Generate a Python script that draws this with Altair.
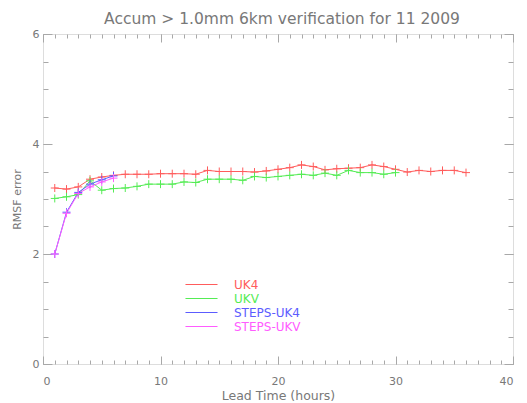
import altair as alt
import pandas as pd

hours_uk4 = list(range(1, 37))
uk4 = [3.20, 3.18, 3.22, 3.36, 3.40, 3.43, 3.45, 3.45, 3.45, 3.46, 3.46, 3.46,
       3.45, 3.52, 3.50, 3.50, 3.50, 3.49, 3.51, 3.54, 3.57, 3.62, 3.59, 3.53,
       3.55, 3.56, 3.57, 3.62, 3.59, 3.54, 3.49, 3.52, 3.50, 3.52, 3.52, 3.48]
hours_ukv = list(range(1, 31))
ukv = [3.01, 3.04, 3.08, 3.33, 3.16, 3.19, 3.20, 3.23, 3.27, 3.27, 3.27, 3.31,
       3.30, 3.36, 3.36, 3.36, 3.34, 3.41, 3.39, 3.41, 3.43, 3.45, 3.43, 3.47,
       3.43, 3.52, 3.48, 3.48, 3.45, 3.48]
hours_steps = [1, 2, 3, 4, 5, 6]
steps_uk4 = [2.00, 2.76, 3.12, 3.27, 3.35, 3.42]
steps_ukv = [2.00, 2.74, 3.10, 3.22, 3.31, 3.38]

series = ["UK4", "UKV", "STEPS-UK4", "STEPS-UKV"]
colors = ["#ff5c5c", "#55ec55", "#5c5cff", "#ff5cff"]
x_major = [0, 10, 20, 30, 40]
x_minor = list(range(0, 41))
y_major = [0, 2, 4, 6]
y_minor = [i * 0.5 for i in range(13)]

rows = []
for name, hs, vs in [("UK4", hours_uk4, uk4), ("UKV", hours_ukv, ukv),
                     ("STEPS-UK4", hours_steps, steps_uk4),
                     ("STEPS-UKV", hours_steps, steps_ukv)]:
    for h, v in zip(hs, vs):
        rows.append({"series": name, "hour": h, "val": v, "ord": series.index(name)})
df = pd.DataFrame(rows)

FONT = "DejaVu Sans"
GRAY = "#787878"
TICK = "#a8a8a8"
W, H = 470, 330

xs = alt.Scale(domain=[0, 40], nice=False, zero=False)
ys = alt.Scale(domain=[0, 6], nice=False, zero=False)

base = alt.Chart(df)

main = base.mark_line(
    strokeWidth=1,
    point=alt.OverlayMarkDef(shape="M-1,0H1M0,-1V1", filled=False, size=64, strokeWidth=1),
).encode(
    x=alt.X("hour:Q", scale=xs, axis=alt.Axis(
        orient="bottom", values=x_major, title="Lead Time (hours)", ticks=False, tickSize=0,
        domain=False, grid=False, labelPadding=11, labelFont=FONT, labelFontSize=11,
        labelColor=GRAY, titleFont=FONT, titleFontSize=12.5, titleColor=GRAY,
        titleFontWeight="normal", titlePadding=3)),
    y=alt.Y("val:Q", scale=ys, axis=alt.Axis(
        orient="left", values=y_major, title="RMSF error", ticks=False, tickSize=0,
        domain=False, grid=False, labelPadding=4, labelFont=FONT, labelFontSize=11,
        labelColor=GRAY, titleFont=FONT, titleFontSize=11, titleColor=GRAY,
        titleFontWeight="normal", titlePadding=10)),
    color=alt.Color("series:N", scale=alt.Scale(domain=series, range=colors),
                    sort=series,
                    legend=alt.Legend(
                        title=None, orient="none", legendX=152, legendY=244,
                        symbolType="M-2.67,0H2.67", symbolSize=144, symbolStrokeWidth=1,
                        symbolStrokeColor=alt.ExprRef(expr="scale('color', datum.value)"),
                        labelFont=FONT, labelFontSize=12, labelOffset=26, padding=0,
                        rowPadding=1,
                        labelColor=alt.ExprRef(expr="scale('color', datum.value)"))),
    order=alt.Order("ord:Q"),
)


def tick_layer(xorient, yorient, xvals, yvals, xsize, ysize):
    return base.mark_point(opacity=0).encode(
        x=alt.X("hour:Q", scale=xs, axis=alt.Axis(
            orient=xorient, offset=-H, values=xvals, labels=False, domain=False, grid=False,
            title=None, ticks=True, tickSize=xsize, tickColor=TICK, tickWidth=1)),
        y=alt.Y("val:Q", scale=ys, axis=alt.Axis(
            orient=yorient, offset=-W, values=yvals, labels=False, domain=False, grid=False,
            title=None, ticks=True, tickSize=ysize, tickColor=TICK, tickWidth=1)),
    )


t1 = tick_layer("top", "right", x_major, y_major, 8, 9)
t2 = tick_layer("top", "right", x_minor, y_minor, 4, 5)
t3 = tick_layer("bottom", "left", x_major, y_major, 8, 9)
t4 = tick_layer("bottom", "left", x_minor, y_minor, 4, 5)

chart = alt.layer(t1, t2, t3, t4, main).resolve_axis(
    x="independent", y="independent"
).properties(
    width=W, height=H, autosize="none",
    padding={"left": 35, "top": 26, "right": 6, "bottom": 37},
    title=alt.TitleParams("Accum > 1.0mm 6km verification for 11 2009", font=FONT,
                          fontSize=15.5, fontWeight="normal", color=GRAY, offset=1, dx=4),
).configure_view(stroke="#9a9a9a", strokeWidth=1).configure(background="white")

chart.save("out.html", embed_options={"renderer": "svg", "actions": False})
